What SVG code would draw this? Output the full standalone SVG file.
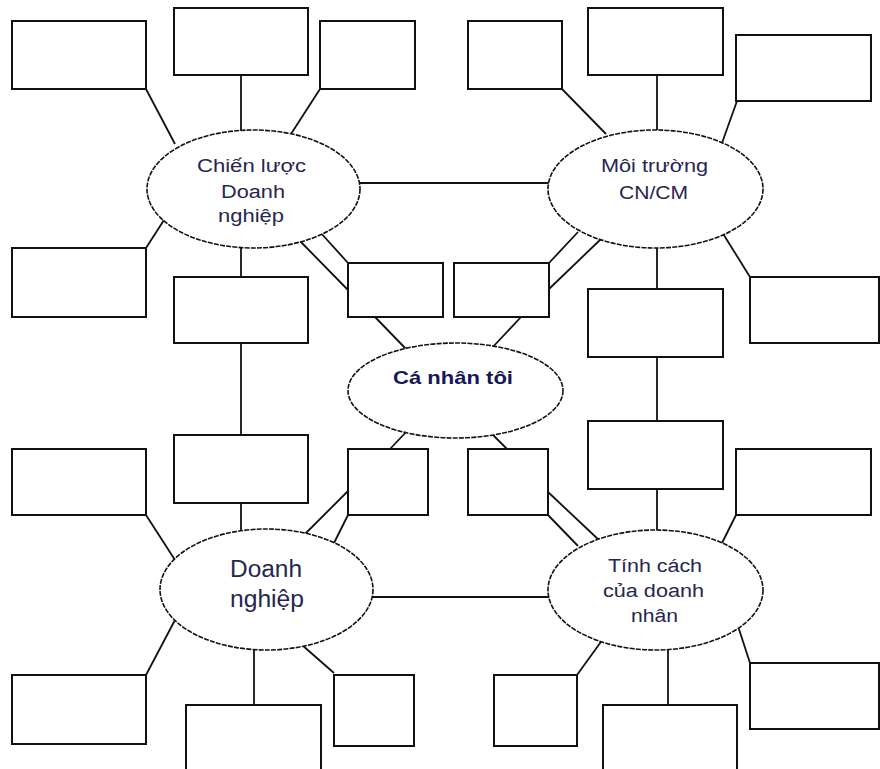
<svg xmlns="http://www.w3.org/2000/svg" width="880" height="769" viewBox="0 0 880 769">
<style>
.box{fill:#fff;stroke:#111;stroke-width:2}
.ell{fill:#fff;stroke:#111;stroke-width:1.6;stroke-dasharray:5 1.2}
.ln{stroke:#111;stroke-width:1.8;fill:none}
.t{font-family:"Liberation Sans",Arial,sans-serif;font-size:18px;fill:#26264f;text-anchor:middle}
.big{font-size:23px}
.bold{font-weight:bold;font-size:19px;fill:#16165a}
</style>
<rect width="880" height="769" fill="#fff"/>
<g id="connectors">
<line class="ln" x1="146" y1="89" x2="175" y2="144"/>
<line class="ln" x1="241" y1="75" x2="241" y2="134"/>
<line class="ln" x1="320" y1="89" x2="291" y2="134"/>
<line class="ln" x1="356" y1="183" x2="552" y2="183"/>
<line class="ln" x1="146" y1="248" x2="164" y2="220"/>
<line class="ln" x1="241" y1="244" x2="241" y2="277"/>
<line class="ln" x1="241" y1="343" x2="241" y2="435"/>
<line class="ln" x1="320" y1="232" x2="348" y2="263"/>
<line class="ln" x1="299" y1="240" x2="348" y2="290"/>
<line class="ln" x1="375" y1="317" x2="408" y2="351"/>
<line class="ln" x1="521" y1="317" x2="490" y2="350"/>
<line class="ln" x1="578" y1="232" x2="549" y2="263"/>
<line class="ln" x1="601" y1="239" x2="549" y2="289"/>
<line class="ln" x1="562" y1="89" x2="606" y2="134"/>
<line class="ln" x1="657" y1="75" x2="657" y2="134"/>
<line class="ln" x1="737" y1="101" x2="722" y2="143"/>
<line class="ln" x1="657" y1="244" x2="657" y2="289"/>
<line class="ln" x1="722" y1="232" x2="750" y2="277"/>
<line class="ln" x1="657" y1="357" x2="657" y2="421"/>
<line class="ln" x1="241" y1="503" x2="241" y2="533"/>
<line class="ln" x1="146" y1="515" x2="175" y2="560"/>
<line class="ln" x1="146" y1="675" x2="175" y2="620"/>
<line class="ln" x1="254" y1="646" x2="254" y2="705"/>
<line class="ln" x1="302" y1="645" x2="334" y2="673"/>
<line class="ln" x1="369" y1="597" x2="552" y2="597"/>
<line class="ln" x1="304" y1="535" x2="348" y2="491"/>
<line class="ln" x1="333" y1="545" x2="348" y2="515"/>
<line class="ln" x1="408" y1="430" x2="390" y2="449"/>
<line class="ln" x1="490" y1="432" x2="507" y2="449"/>
<line class="ln" x1="548" y1="492" x2="600" y2="541"/>
<line class="ln" x1="548" y1="515" x2="578" y2="546"/>
<line class="ln" x1="657" y1="489" x2="657" y2="534"/>
<line class="ln" x1="736" y1="515" x2="721" y2="545"/>
<line class="ln" x1="736" y1="620" x2="750" y2="663"/>
<line class="ln" x1="668" y1="646" x2="668" y2="705"/>
<line class="ln" x1="603" y1="639" x2="577" y2="675"/>
</g>
<g id="box-a"><rect class="box" x="12" y="21" width="134" height="68"/></g>
<g id="box-b"><rect class="box" x="174" y="8" width="134" height="67"/></g>
<g id="box-c"><rect class="box" x="320" y="21" width="95" height="68"/></g>
<g id="box-d"><rect class="box" x="12" y="248" width="134" height="69"/></g>
<g id="box-e"><rect class="box" x="174" y="277" width="134" height="66"/></g>
<g id="box-f"><rect class="box" x="348" y="263" width="95" height="54"/></g>
<g id="box-g"><rect class="box" x="454" y="263" width="95" height="54"/></g>
<g id="box-h"><rect class="box" x="468" y="21" width="94" height="68"/></g>
<g id="box-i"><rect class="box" x="588" y="8" width="135" height="67"/></g>
<g id="box-j"><rect class="box" x="736" y="35" width="135" height="66"/></g>
<g id="box-k"><rect class="box" x="750" y="277" width="129" height="66"/></g>
<g id="box-l"><rect class="box" x="588" y="289" width="135" height="68"/></g>
<g id="box-m"><rect class="box" x="12" y="449" width="134" height="66"/></g>
<g id="box-n"><rect class="box" x="174" y="435" width="134" height="68"/></g>
<g id="box-o"><rect class="box" x="348" y="449" width="80" height="66"/></g>
<g id="box-p"><rect class="box" x="12" y="675" width="134" height="69"/></g>
<g id="box-q"><rect class="box" x="186" y="705" width="135" height="70"/></g>
<g id="box-r"><rect class="box" x="334" y="675" width="80" height="71"/></g>
<g id="box-s"><rect class="box" x="468" y="449" width="80" height="66"/></g>
<g id="box-t"><rect class="box" x="588" y="421" width="135" height="68"/></g>
<g id="box-u"><rect class="box" x="736" y="449" width="135" height="66"/></g>
<g id="box-v"><rect class="box" x="494" y="675" width="83" height="71"/></g>
<g id="box-w"><rect class="box" x="603" y="705" width="134" height="70"/></g>
<g id="box-x"><rect class="box" x="750" y="663" width="129" height="66"/></g>
<g id="node-chien-luoc">
<ellipse class="ell" cx="253.5" cy="189" rx="106.5" ry="59"/>
<text class="t" x="251.5" y="172" textLength="109" lengthAdjust="spacingAndGlyphs">Chiến lược</text>
<text class="t" x="253" y="198" textLength="64" lengthAdjust="spacingAndGlyphs">Doanh</text>
<text class="t" x="251" y="222" textLength="66" lengthAdjust="spacingAndGlyphs">nghiệp</text>
</g>
<g id="node-moi-truong">
<ellipse class="ell" cx="655.5" cy="189" rx="107.5" ry="59"/>
<text class="t" x="654.5" y="172" textLength="107" lengthAdjust="spacingAndGlyphs">Môi trường</text>
<text class="t" x="653.5" y="199" textLength="69" lengthAdjust="spacingAndGlyphs">CN/CM</text>
</g>
<g id="node-ca-nhan">
<ellipse class="ell" cx="455.5" cy="390.5" rx="107.5" ry="47.5"/>
<text class="t bold" x="453" y="384" textLength="120" lengthAdjust="spacingAndGlyphs">Cá nhân tôi</text>
</g>
<g id="node-doanh-nghiep">
<ellipse class="ell" cx="266.5" cy="589.5" rx="106.5" ry="60.5"/>
<text class="t big" x="266" y="577" textLength="72" lengthAdjust="spacingAndGlyphs">Doanh</text>
<text class="t big" x="267" y="607" textLength="74" lengthAdjust="spacingAndGlyphs">nghiệp</text>
</g>
<g id="node-tinh-cach">
<ellipse class="ell" cx="655.5" cy="590" rx="107.5" ry="60"/>
<text class="t" x="655" y="572" textLength="94" lengthAdjust="spacingAndGlyphs">Tính cách</text>
<text class="t" x="653.5" y="597" textLength="101" lengthAdjust="spacingAndGlyphs">của doanh</text>
<text class="t" x="654.5" y="622" textLength="47" lengthAdjust="spacingAndGlyphs">nhân</text>
</g>
</svg>
